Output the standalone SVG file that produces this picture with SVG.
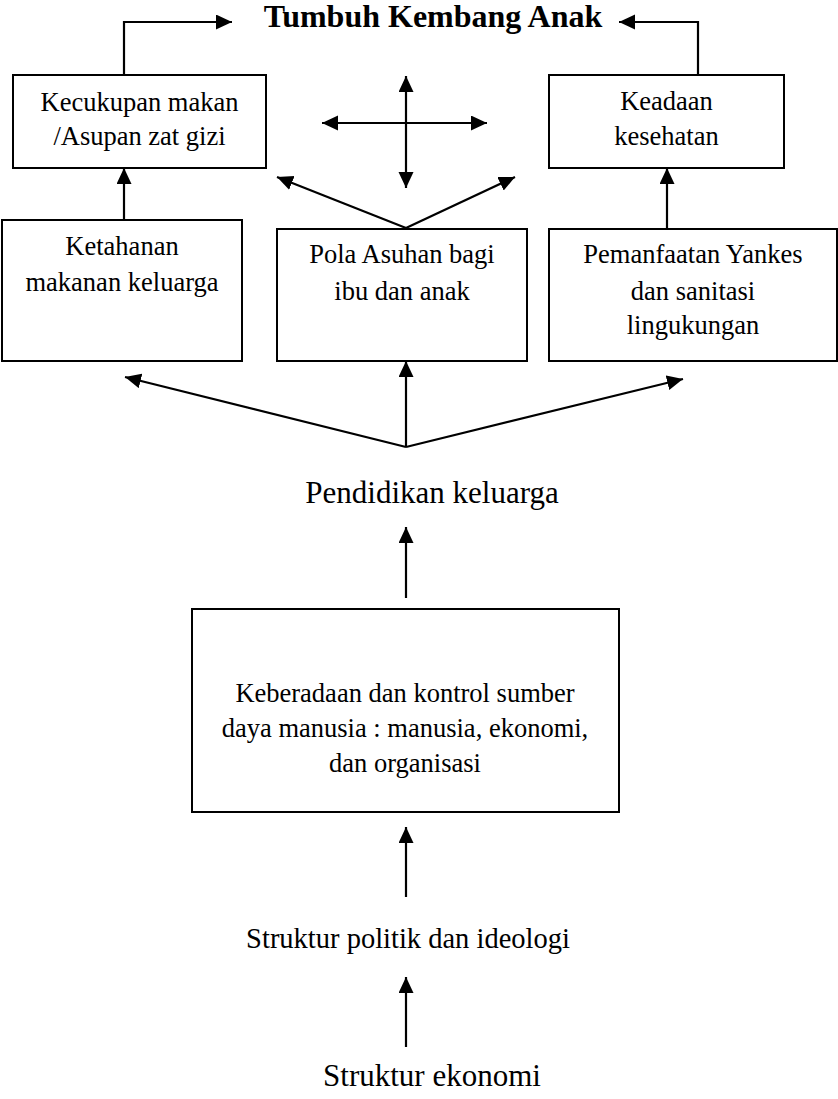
<svg xmlns="http://www.w3.org/2000/svg" width="838" height="1099" viewBox="0 0 838 1099">
<style>
.box{fill:#fff;stroke:#000;stroke-width:2}
.t{font-family:"Liberation Serif","Times New Roman",serif;font-size:26.5px;fill:#000;text-anchor:middle}
.big{font-family:"Liberation Serif","Times New Roman",serif;font-size:31px;fill:#000;text-anchor:middle}
.title{font-family:"Liberation Serif","Times New Roman",serif;font-size:32px;font-weight:bold;fill:#000;text-anchor:middle}
.c{fill:none;stroke:#000;stroke-width:2.2}
</style>
<defs>
<marker id="ah" markerUnits="userSpaceOnUse" markerWidth="17" markerHeight="16" refX="16" refY="7.5" orient="auto-start-reverse" viewBox="0 0 17 16">
<path d="M0,0 L16,7.5 L0,15 z" fill="#000"/>
</marker>
</defs>
<g id="title"><text class="title" x="433" y="27">Tumbuh Kembang Anak</text></g>
<g id="kecukupan"><rect class="box" x="13" y="75" width="253" height="93"/><text class="t" x="139.5" y="111">Kecukupan makan</text><text class="t" x="139.5" y="145">/Asupan zat gizi</text></g>
<g id="keadaan"><rect class="box" x="549" y="75" width="235" height="93"/><text class="t" x="666.5" y="110">Keadaan</text><text class="t" x="666.5" y="145">kesehatan</text></g>
<g id="ketahanan"><rect class="box" x="2" y="220" width="240" height="141"/><text class="t" x="122" y="255">Ketahanan</text><text class="t" x="122" y="291">makanan keluarga</text></g>
<g id="pola"><rect class="box" x="277" y="229" width="250" height="132"/><text class="t" x="402" y="263">Pola Asuhan bagi</text><text class="t" x="402" y="300">ibu dan anak</text></g>
<g id="pemanfaatan"><rect class="box" x="549" y="229" width="288" height="132"/><text class="t" x="693" y="263">Pemanfaatan Yankes</text><text class="t" x="693" y="300">dan sanitasi</text><text class="t" x="693" y="334">lingukungan</text></g>
<g id="pendidikan"><text class="big" x="432" y="503">Pendidikan keluarga</text></g>
<g id="keberadaan"><rect class="box" x="192" y="609" width="427" height="203"/><text class="t" x="405" y="702">Keberadaan dan kontrol sumber</text><text class="t" x="405" y="737">daya manusia : manusia, ekonomi,</text><text class="t" x="405" y="772">dan organisasi</text></g>
<g id="politik"><text class="big" x="408" y="948" style="font-size:28.5px">Struktur politik dan ideologi</text></g>
<g id="ekonomi"><text class="big" x="432" y="1086">Struktur ekonomi</text></g>
<g id="connectors">
<polyline class="c" points="124,75 124,22 232,22" marker-end="url(#ah)"/>
<polyline class="c" points="698,75 698,22 619,22" marker-end="url(#ah)"/>
<line class="c" x1="406" y1="76" x2="406" y2="188" marker-start="url(#ah)" marker-end="url(#ah)"/>
<line class="c" x1="322" y1="123" x2="487" y2="123" marker-start="url(#ah)" marker-end="url(#ah)"/>
<line class="c" x1="406" y1="228" x2="277" y2="177" marker-end="url(#ah)"/>
<line class="c" x1="406" y1="228" x2="515" y2="177" marker-end="url(#ah)"/>
<line class="c" x1="124" y1="220" x2="124" y2="168" marker-end="url(#ah)"/>
<line class="c" x1="667" y1="229" x2="667" y2="168" marker-end="url(#ah)"/>
<line class="c" x1="406" y1="447" x2="125" y2="377" marker-end="url(#ah)"/>
<line class="c" x1="406" y1="447" x2="406" y2="361" marker-end="url(#ah)"/>
<line class="c" x1="406" y1="447" x2="683" y2="379" marker-end="url(#ah)"/>
<line class="c" x1="406" y1="598" x2="406" y2="527" marker-end="url(#ah)"/>
<line class="c" x1="406" y1="897" x2="406" y2="827" marker-end="url(#ah)"/>
<line class="c" x1="406" y1="1047" x2="406" y2="977" marker-end="url(#ah)"/>
</g>
</svg>
